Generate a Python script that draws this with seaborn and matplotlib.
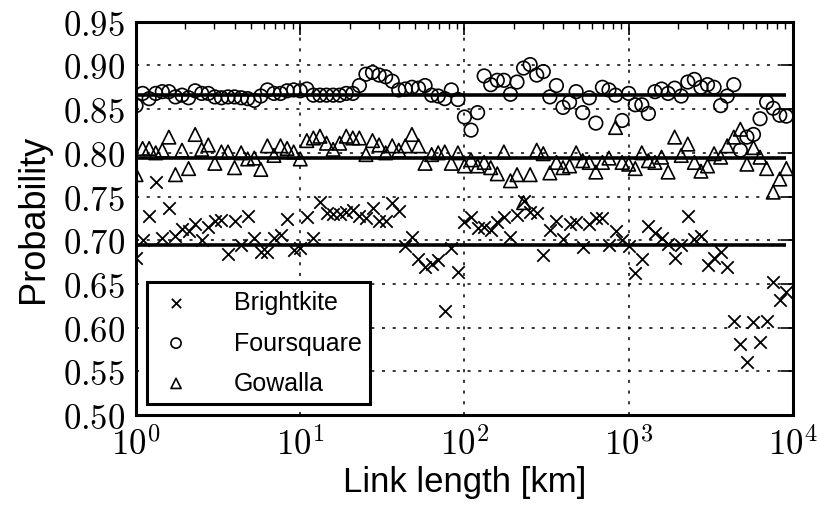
import numpy as np
import pandas as pd
import seaborn as sns
import matplotlib
matplotlib.use("Agg")
import matplotlib.pyplot as plt
from matplotlib.ticker import FuncFormatter, FixedLocator, LogLocator

# bins: 25 per decade, log-spaced link lengths [km]
link_km = np.logspace(0, 3.96, 100)

brightkite = [
    0.680, 0.700, 0.728, 0.767, 0.703, 0.737, 0.705, 0.713, 0.711, 0.719,
    0.700, 0.715, 0.722, 0.723, 0.684, 0.722, 0.695, 0.728, 0.703, 0.686,
    0.686, 0.703, 0.706, 0.724, 0.689, 0.691, 0.726, 0.702, 0.744, 0.731,
    0.730, 0.730, 0.732, 0.735, 0.728, 0.725, 0.737, 0.722, 0.722, 0.742,
    0.733, 0.693, 0.704, 0.679, 0.669, 0.673, 0.677, 0.619, 0.691, 0.664,
    0.721, 0.726, 0.714, 0.715, 0.712, 0.721, 0.726, 0.704, 0.729, 0.745,
    0.732, 0.731, 0.683, 0.712, 0.722, 0.701, 0.719, 0.721, 0.692, 0.719,
    0.725, 0.725, 0.695, 0.711, 0.700, 0.693, 0.663, 0.679, 0.716, 0.708,
    0.702, 0.696, 0.680, 0.695, 0.728, 0.701, 0.705, 0.672, 0.680, 0.687,
    0.669, 0.607, 0.581, 0.561, 0.606, 0.583, 0.608, 0.652, 0.631, 0.641,
]

foursquare = [
    0.854, 0.868, 0.862, 0.868, 0.870, 0.870, 0.864, 0.866, 0.863, 0.871,
    0.868, 0.868, 0.864, 0.863, 0.864, 0.864, 0.863, 0.862, 0.860, 0.865,
    0.872, 0.868, 0.868, 0.871, 0.872, 0.871, 0.873, 0.866, 0.866, 0.866,
    0.866, 0.866, 0.868, 0.868, 0.877, 0.890, 0.892, 0.889, 0.887, 0.882,
    0.872, 0.873, 0.875, 0.874, 0.877, 0.866, 0.865, 0.862, 0.872, 0.861,
    0.841, 0.826, 0.846, 0.888, 0.878, 0.883, 0.883, 0.867, 0.881, 0.897,
    0.901, 0.889, 0.893, 0.864, 0.877, 0.852, 0.858, 0.870, 0.846, 0.863,
    0.834, 0.875, 0.872, 0.866, 0.837, 0.868, 0.855, 0.855, 0.845, 0.870,
    0.873, 0.868, 0.874, 0.865, 0.881, 0.884, 0.875, 0.878, 0.875, 0.854,
    0.865, 0.878, 0.803, 0.818, 0.821, 0.839, 0.858, 0.851, 0.843, 0.842,
]

gowalla = [
    0.775, 0.805, 0.805, 0.800, 0.803, 0.818, 0.775, 0.803, 0.782, 0.821,
    0.804, 0.809, 0.788, 0.801, 0.801, 0.783, 0.800, 0.793, 0.794, 0.781,
    0.808, 0.797, 0.808, 0.805, 0.801, 0.793, 0.814, 0.817, 0.819, 0.811,
    0.804, 0.811, 0.819, 0.817, 0.817, 0.798, 0.814, 0.809, 0.800, 0.808,
    0.803, 0.808, 0.821, 0.808, 0.788, 0.798, 0.800, 0.801, 0.788, 0.800,
    0.785, 0.792, 0.785, 0.789, 0.783, 0.776, 0.801, 0.768, 0.775, 0.743,
    0.775, 0.803, 0.799, 0.777, 0.789, 0.783, 0.785, 0.800, 0.791, 0.789,
    0.778, 0.789, 0.794, 0.829, 0.789, 0.787, 0.782, 0.800, 0.791, 0.789,
    0.795, 0.778, 0.818, 0.797, 0.810, 0.789, 0.779, 0.785, 0.799, 0.795,
    0.808, 0.818, 0.827, 0.787, 0.806, 0.795, 0.782, 0.755, 0.770, 0.782,
]

# average probability lines
avg_lines = {"Brightkite": 0.695, "Foursquare": 0.866, "Gowalla": 0.794}

y_ticks = [0.50, 0.55, 0.60, 0.65, 0.70, 0.75, 0.80, 0.85, 0.90, 0.95]

df = pd.DataFrame({"km": link_km, "Brightkite": brightkite,
                   "Foursquare": foursquare, "Gowalla": gowalla})

sns.set_style("white")
plt.rcParams["font.family"] = ["Liberation Sans", "DejaVu Sans"]
plt.rcParams["mathtext.fontset"] = "cm"
plt.rcParams["text.color"] = "black"
plt.rcParams["axes.labelcolor"] = "black"

fig = plt.figure(figsize=(8.17, 5.06), dpi=100)
ax = fig.add_axes([0.1665, 0.178, 0.804, 0.777])

sns.scatterplot(data=df, x="km", y="Brightkite", marker="x", color="black",
                s=80, linewidth=1.3, label="Brightkite", ax=ax, zorder=3)
sns.scatterplot(data=df, x="km", y="Foursquare", marker="o", facecolor="none",
                edgecolor="black", s=95, linewidth=1.2, label="Foursquare", ax=ax, zorder=3)
sns.scatterplot(data=df, x="km", y="Gowalla", marker="^", facecolor="none",
                edgecolor="black", s=95, linewidth=1.2, label="Gowalla", ax=ax, zorder=3)

for name, val in avg_lines.items():
    ax.hlines(val, link_km[0], link_km[-1], color="black", linewidth=2.6, zorder=2)

ax.set_xscale("log")
ax.set_xlim(1, 1e4)
ax.set_ylim(0.5, 0.95)
ax.yaxis.set_major_locator(FixedLocator(y_ticks))
ax.yaxis.set_major_formatter(FuncFormatter(lambda v, p: r"$%.2f$" % v))
ax.xaxis.set_major_locator(LogLocator(base=10))
ax.xaxis.set_minor_locator(LogLocator(base=10, subs=np.arange(2, 10)))
ax.xaxis.set_major_formatter(FuncFormatter(lambda v, p: r"$10^{%d}$" % round(np.log10(v))))

ax.grid(True, which="major", color="black", linestyle=(0, (2, 5)), linewidth=1.1)
ax.tick_params(which="both", direction="in", top=True, right=True, colors="black",
               labelcolor="black", labelsize=25, pad=8)
ax.tick_params(which="major", length=9, width=1.2)
ax.tick_params(which="minor", length=5, width=1.0)
for sp in ax.spines.values():
    sp.set_linewidth(2.2)
    sp.set_color("black")

ax.set_xlabel("Link length [km]", fontsize=25, labelpad=3)
ax.set_ylabel("Probability", fontsize=26, labelpad=8)

leg = ax.legend(loc="lower left", fontsize=18, markerscale=0.75, frameon=True,
                fancybox=False, edgecolor="black", borderpad=0.35, labelspacing=0.65,
                handletextpad=1.5, handlelength=1.6, borderaxespad=0.45)
leg.get_frame().set_linewidth(2.2)
leg.get_frame().set_alpha(1)
for t in leg.get_texts():
    t.set_color("black")

fig.savefig("out.png", dpi=100)
